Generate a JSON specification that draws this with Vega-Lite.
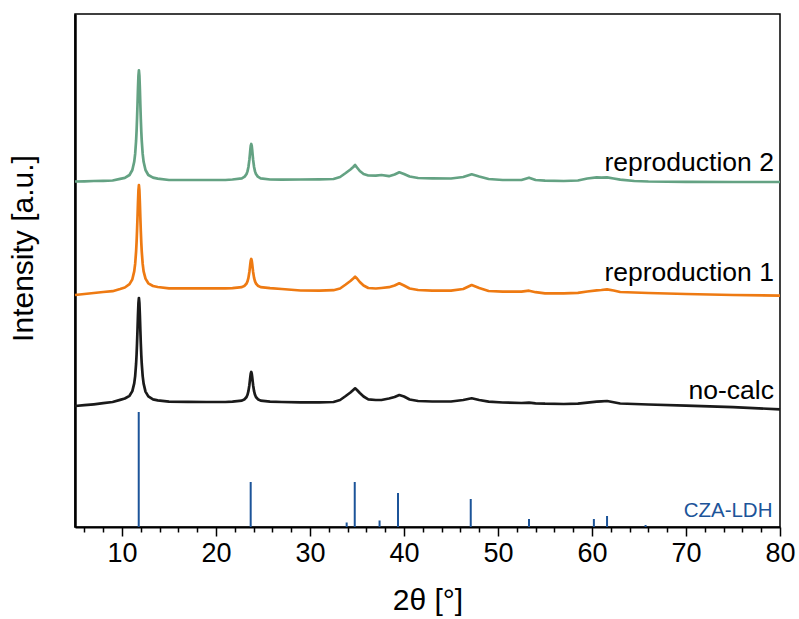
{
  "$schema": "https://vega.github.io/schema/vega-lite/v6.json",
  "width": 705,
  "height": 513,
  "autosize": "none",
  "padding": {"left": 75, "top": 14, "right": 19, "bottom": 92},
  "background": "white",
  "config": {
    "font": "Liberation Sans",
    "view": {"stroke": "#000000", "strokeWidth": 1.5},
    "axis": {"grid": false}
  },
  "datasets": {
    "sticks": [
      {"t": 11.78, "h": 115}, {"t": 23.69, "h": 45}, {"t": 33.9, "h": 4.5}, {"t": 34.76, "h": 45},
      {"t": 37.4, "h": 6.5}, {"t": 39.36, "h": 34}, {"t": 47.1, "h": 28}, {"t": 53.3, "h": 8},
      {"t": 60.2, "h": 8}, {"t": 61.6, "h": 11}, {"t": 65.7, "h": 2}
    ],
    "labels": [
      {"name": "reproduction 2", "t": 79.35, "i": 356.3},
      {"name": "reproduction 1", "t": 79.35, "i": 246.3},
      {"name": "no-calc", "t": 79.35, "i": 127.7},
      {"name": "CZA-LDH", "t": 79.2, "i": 10.3}
    ],
    "xrd": [
      {"s": "reproduction 2", "t": 5, "i": 345.5}, {"s": "reproduction 2", "t": 6, "i": 345.7}, {"s": "reproduction 2", "t": 7, "i": 346}, {"s": "reproduction 2", "t": 8, "i": 346.2}, {"s": "reproduction 2", "t": 9, "i": 346.5},
      {"s": "reproduction 2", "t": 9.8, "i": 348.1}, {"s": "reproduction 2", "t": 10.3, "i": 349.1}, {"s": "reproduction 2", "t": 10.8, "i": 352.0}, {"s": "reproduction 2", "t": 11.1, "i": 357.0}, {"s": "reproduction 2", "t": 11.3, "i": 365.2}, {"s": "reproduction 2", "t": 11.4, "i": 373.1}, {"s": "reproduction 2", "t": 11.5, "i": 386.3}, {"s": "reproduction 2", "t": 11.55, "i": 395.9}, {"s": "reproduction 2", "t": 11.6, "i": 408.2}, {"s": "reproduction 2", "t": 11.65, "i": 422.8}, {"s": "reproduction 2", "t": 11.7, "i": 438.6}, {"s": "reproduction 2", "t": 11.75, "i": 451.5}, {"s": "reproduction 2", "t": 11.8, "i": 456.7}, {"s": "reproduction 2", "t": 11.85, "i": 451.5}, {"s": "reproduction 2", "t": 11.9, "i": 438.6}, {"s": "reproduction 2", "t": 11.95, "i": 422.8}, {"s": "reproduction 2", "t": 12.0, "i": 408.2}, {"s": "reproduction 2", "t": 12.05, "i": 395.9}, {"s": "reproduction 2", "t": 12.1, "i": 386.3}, {"s": "reproduction 2", "t": 12.2, "i": 373.1}, {"s": "reproduction 2", "t": 12.3, "i": 365.2}, {"s": "reproduction 2", "t": 12.5, "i": 357.0}, {"s": "reproduction 2", "t": 12.8, "i": 352.0}, {"s": "reproduction 2", "t": 13.3, "i": 349.4}, {"s": "reproduction 2", "t": 13.8, "i": 348.4},
      {"s": "reproduction 2", "t": 15, "i": 347}, {"s": "reproduction 2", "t": 17, "i": 347}, {"s": "reproduction 2", "t": 19, "i": 347}, {"s": "reproduction 2", "t": 21, "i": 347},
      {"s": "reproduction 2", "t": 21.75, "i": 347.5}, {"s": "reproduction 2", "t": 22.75, "i": 348.7}, {"s": "reproduction 2", "t": 23.05, "i": 350.4}, {"s": "reproduction 2", "t": 23.25, "i": 353}, {"s": "reproduction 2", "t": 23.35, "i": 355.6}, {"s": "reproduction 2", "t": 23.45, "i": 360}, {"s": "reproduction 2", "t": 23.55, "i": 367.1}, {"s": "reproduction 2", "t": 23.6, "i": 371.9}, {"s": "reproduction 2", "t": 23.65, "i": 377.1}, {"s": "reproduction 2", "t": 23.7, "i": 381.3}, {"s": "reproduction 2", "t": 23.75, "i": 383}, {"s": "reproduction 2", "t": 23.8, "i": 381.3}, {"s": "reproduction 2", "t": 23.85, "i": 377.1}, {"s": "reproduction 2", "t": 23.9, "i": 371.9}, {"s": "reproduction 2", "t": 23.95, "i": 367.1}, {"s": "reproduction 2", "t": 24.05, "i": 360}, {"s": "reproduction 2", "t": 24.15, "i": 355.6}, {"s": "reproduction 2", "t": 24.25, "i": 353}, {"s": "reproduction 2", "t": 24.45, "i": 350.4}, {"s": "reproduction 2", "t": 24.75, "i": 348.7}, {"s": "reproduction 2", "t": 25.75, "i": 347.5},
      {"s": "reproduction 2", "t": 27, "i": 347.3}, {"s": "reproduction 2", "t": 29, "i": 347.5}, {"s": "reproduction 2", "t": 31, "i": 347.7}, {"s": "reproduction 2", "t": 32.5, "i": 348}, {"s": "reproduction 2", "t": 33.2, "i": 350}, {"s": "reproduction 2", "t": 33.8, "i": 354}, {"s": "reproduction 2", "t": 34.3, "i": 357.5}, {"s": "reproduction 2", "t": 34.6, "i": 360}, {"s": "reproduction 2", "t": 34.8, "i": 362}, {"s": "reproduction 2", "t": 35.0, "i": 359.5}, {"s": "reproduction 2", "t": 35.3, "i": 356}, {"s": "reproduction 2", "t": 35.7, "i": 353}, {"s": "reproduction 2", "t": 36.2, "i": 351.5}, {"s": "reproduction 2", "t": 37.0, "i": 351.3}, {"s": "reproduction 2", "t": 37.6, "i": 352}, {"s": "reproduction 2", "t": 38.4, "i": 350.8}, {"s": "reproduction 2", "t": 39.0, "i": 352.5}, {"s": "reproduction 2", "t": 39.5, "i": 354.7}, {"s": "reproduction 2", "t": 40.0, "i": 353}, {"s": "reproduction 2", "t": 40.6, "i": 350.5}, {"s": "reproduction 2", "t": 41.5, "i": 349}, {"s": "reproduction 2", "t": 43, "i": 348.7}, {"s": "reproduction 2", "t": 45, "i": 348.5}, {"s": "reproduction 2", "t": 46.3, "i": 350}, {"s": "reproduction 2", "t": 47.2, "i": 352.7}, {"s": "reproduction 2", "t": 48.0, "i": 350.5}, {"s": "reproduction 2", "t": 49, "i": 348}, {"s": "reproduction 2", "t": 50.5, "i": 347}, {"s": "reproduction 2", "t": 52.5, "i": 347}, {"s": "reproduction 2", "t": 53.3, "i": 349.3}, {"s": "reproduction 2", "t": 54, "i": 347}, {"s": "reproduction 2", "t": 55, "i": 346.3}, {"s": "reproduction 2", "t": 57, "i": 346}, {"s": "reproduction 2", "t": 58.5, "i": 346.5}, {"s": "reproduction 2", "t": 59.5, "i": 348.5}, {"s": "reproduction 2", "t": 60.5, "i": 349.7}, {"s": "reproduction 2", "t": 61.0, "i": 349.3}, {"s": "reproduction 2", "t": 61.6, "i": 349.7}, {"s": "reproduction 2", "t": 62.3, "i": 348.5}, {"s": "reproduction 2", "t": 63, "i": 347.3}, {"s": "reproduction 2", "t": 64.5, "i": 346}, {"s": "reproduction 2", "t": 66, "i": 345.5}, {"s": "reproduction 2", "t": 70, "i": 345.2}, {"s": "reproduction 2", "t": 75, "i": 345}, {"s": "reproduction 2", "t": 80, "i": 345},

      {"s": "reproduction 1", "t": 5, "i": 232}, {"s": "reproduction 1", "t": 6, "i": 233}, {"s": "reproduction 1", "t": 7, "i": 234}, {"s": "reproduction 1", "t": 8, "i": 235}, {"s": "reproduction 1", "t": 9, "i": 235.8},
      {"s": "reproduction 1", "t": 9.8, "i": 238.0}, {"s": "reproduction 1", "t": 10.3, "i": 239.5}, {"s": "reproduction 1", "t": 10.8, "i": 242.8}, {"s": "reproduction 1", "t": 11.1, "i": 247.7}, {"s": "reproduction 1", "t": 11.3, "i": 255.6}, {"s": "reproduction 1", "t": 11.4, "i": 263.1}, {"s": "reproduction 1", "t": 11.5, "i": 275.6}, {"s": "reproduction 1", "t": 11.55, "i": 284.6}, {"s": "reproduction 1", "t": 11.6, "i": 296.2}, {"s": "reproduction 1", "t": 11.65, "i": 309.9}, {"s": "reproduction 1", "t": 11.7, "i": 324.7}, {"s": "reproduction 1", "t": 11.75, "i": 336.9}, {"s": "reproduction 1", "t": 11.8, "i": 341.8}, {"s": "reproduction 1", "t": 11.85, "i": 336.9}, {"s": "reproduction 1", "t": 11.9, "i": 324.7}, {"s": "reproduction 1", "t": 11.95, "i": 309.9}, {"s": "reproduction 1", "t": 12.0, "i": 296.2}, {"s": "reproduction 1", "t": 12.05, "i": 284.6}, {"s": "reproduction 1", "t": 12.1, "i": 275.6}, {"s": "reproduction 1", "t": 12.2, "i": 263.1}, {"s": "reproduction 1", "t": 12.3, "i": 255.7}, {"s": "reproduction 1", "t": 12.5, "i": 248.4}, {"s": "reproduction 1", "t": 12.8, "i": 243.7}, {"s": "reproduction 1", "t": 13.3, "i": 241}, {"s": "reproduction 1", "t": 13.8, "i": 240},
      {"s": "reproduction 1", "t": 15, "i": 238.7}, {"s": "reproduction 1", "t": 17, "i": 238.7}, {"s": "reproduction 1", "t": 19, "i": 238.7}, {"s": "reproduction 1", "t": 21, "i": 238.7},
      {"s": "reproduction 1", "t": 21.75, "i": 238.9}, {"s": "reproduction 1", "t": 22.75, "i": 239.9}, {"s": "reproduction 1", "t": 23.05, "i": 241.3}, {"s": "reproduction 1", "t": 23.25, "i": 243.5}, {"s": "reproduction 1", "t": 23.35, "i": 245.6}, {"s": "reproduction 1", "t": 23.45, "i": 249.1}, {"s": "reproduction 1", "t": 23.55, "i": 255}, {"s": "reproduction 1", "t": 23.6, "i": 258.9}, {"s": "reproduction 1", "t": 23.65, "i": 263.1}, {"s": "reproduction 1", "t": 23.7, "i": 266.6}, {"s": "reproduction 1", "t": 23.75, "i": 268}, {"s": "reproduction 1", "t": 23.8, "i": 266.6}, {"s": "reproduction 1", "t": 23.85, "i": 263.1}, {"s": "reproduction 1", "t": 23.9, "i": 258.9}, {"s": "reproduction 1", "t": 23.95, "i": 255}, {"s": "reproduction 1", "t": 24.05, "i": 249.1}, {"s": "reproduction 1", "t": 24.15, "i": 245.6}, {"s": "reproduction 1", "t": 24.25, "i": 243.5}, {"s": "reproduction 1", "t": 24.45, "i": 241.3}, {"s": "reproduction 1", "t": 24.75, "i": 239.9}, {"s": "reproduction 1", "t": 25.75, "i": 238.9},
      {"s": "reproduction 1", "t": 27, "i": 238}, {"s": "reproduction 1", "t": 29, "i": 236.5}, {"s": "reproduction 1", "t": 31, "i": 236.3}, {"s": "reproduction 1", "t": 32.5, "i": 236.8}, {"s": "reproduction 1", "t": 33.2, "i": 238.5}, {"s": "reproduction 1", "t": 33.8, "i": 242.5}, {"s": "reproduction 1", "t": 34.3, "i": 246}, {"s": "reproduction 1", "t": 34.6, "i": 248.5}, {"s": "reproduction 1", "t": 34.8, "i": 250.3}, {"s": "reproduction 1", "t": 35.0, "i": 248.5}, {"s": "reproduction 1", "t": 35.3, "i": 245}, {"s": "reproduction 1", "t": 35.7, "i": 241.5}, {"s": "reproduction 1", "t": 36.2, "i": 239}, {"s": "reproduction 1", "t": 37.0, "i": 238.5}, {"s": "reproduction 1", "t": 37.6, "i": 239}, {"s": "reproduction 1", "t": 38.4, "i": 239.8}, {"s": "reproduction 1", "t": 39.0, "i": 241.5}, {"s": "reproduction 1", "t": 39.5, "i": 243.7}, {"s": "reproduction 1", "t": 40.0, "i": 241.5}, {"s": "reproduction 1", "t": 40.6, "i": 238.5}, {"s": "reproduction 1", "t": 41.5, "i": 237}, {"s": "reproduction 1", "t": 43, "i": 236.3}, {"s": "reproduction 1", "t": 45, "i": 236.3}, {"s": "reproduction 1", "t": 46.3, "i": 238}, {"s": "reproduction 1", "t": 47.2, "i": 242}, {"s": "reproduction 1", "t": 48.0, "i": 239}, {"s": "reproduction 1", "t": 49, "i": 236}, {"s": "reproduction 1", "t": 50.5, "i": 235.3}, {"s": "reproduction 1", "t": 52.5, "i": 235.3}, {"s": "reproduction 1", "t": 53.3, "i": 236.3}, {"s": "reproduction 1", "t": 54, "i": 234.8}, {"s": "reproduction 1", "t": 55, "i": 233.7}, {"s": "reproduction 1", "t": 57, "i": 233.7}, {"s": "reproduction 1", "t": 58.5, "i": 234.2}, {"s": "reproduction 1", "t": 59.5, "i": 235.5}, {"s": "reproduction 1", "t": 60.5, "i": 236.7}, {"s": "reproduction 1", "t": 61.0, "i": 237}, {"s": "reproduction 1", "t": 61.6, "i": 237.7}, {"s": "reproduction 1", "t": 62.3, "i": 236.5}, {"s": "reproduction 1", "t": 63, "i": 235}, {"s": "reproduction 1", "t": 64.5, "i": 234.5}, {"s": "reproduction 1", "t": 66, "i": 234}, {"s": "reproduction 1", "t": 70, "i": 233}, {"s": "reproduction 1", "t": 75, "i": 232}, {"s": "reproduction 1", "t": 80, "i": 231.3},

      {"s": "no-calc", "t": 5, "i": 121}, {"s": "no-calc", "t": 6, "i": 121.8}, {"s": "no-calc", "t": 7, "i": 122.7}, {"s": "no-calc", "t": 8, "i": 123.8}, {"s": "no-calc", "t": 9, "i": 125},
      {"s": "no-calc", "t": 9.8, "i": 127.1}, {"s": "no-calc", "t": 10.3, "i": 128.5}, {"s": "no-calc", "t": 10.8, "i": 131.2}, {"s": "no-calc", "t": 11.1, "i": 135.9}, {"s": "no-calc", "t": 11.3, "i": 143.6}, {"s": "no-calc", "t": 11.4, "i": 150.9}, {"s": "no-calc", "t": 11.5, "i": 163.3}, {"s": "no-calc", "t": 11.55, "i": 172.2}, {"s": "no-calc", "t": 11.6, "i": 183.7}, {"s": "no-calc", "t": 11.65, "i": 197.4}, {"s": "no-calc", "t": 11.7, "i": 212.1}, {"s": "no-calc", "t": 11.75, "i": 224.2}, {"s": "no-calc", "t": 11.8, "i": 229}, {"s": "no-calc", "t": 11.85, "i": 224.2}, {"s": "no-calc", "t": 11.9, "i": 212.1}, {"s": "no-calc", "t": 11.95, "i": 197.4}, {"s": "no-calc", "t": 12.0, "i": 183.7}, {"s": "no-calc", "t": 12.05, "i": 172.2}, {"s": "no-calc", "t": 12.1, "i": 163.3}, {"s": "no-calc", "t": 12.2, "i": 150.9}, {"s": "no-calc", "t": 12.3, "i": 143.4}, {"s": "no-calc", "t": 12.5, "i": 135.4}, {"s": "no-calc", "t": 12.8, "i": 130.6}, {"s": "no-calc", "t": 13.3, "i": 127.6}, {"s": "no-calc", "t": 13.8, "i": 126.6},
      {"s": "no-calc", "t": 15, "i": 125.3}, {"s": "no-calc", "t": 17, "i": 125.2}, {"s": "no-calc", "t": 19, "i": 125}, {"s": "no-calc", "t": 21, "i": 125},
      {"s": "no-calc", "t": 21.75, "i": 125.4}, {"s": "no-calc", "t": 22.75, "i": 126.4}, {"s": "no-calc", "t": 23.05, "i": 127.8}, {"s": "no-calc", "t": 23.25, "i": 130}, {"s": "no-calc", "t": 23.35, "i": 132.2}, {"s": "no-calc", "t": 23.45, "i": 135.8}, {"s": "no-calc", "t": 23.55, "i": 141.8}, {"s": "no-calc", "t": 23.6, "i": 145.8}, {"s": "no-calc", "t": 23.65, "i": 150}, {"s": "no-calc", "t": 23.7, "i": 153.6}, {"s": "no-calc", "t": 23.75, "i": 155}, {"s": "no-calc", "t": 23.8, "i": 153.6}, {"s": "no-calc", "t": 23.85, "i": 150}, {"s": "no-calc", "t": 23.9, "i": 145.8}, {"s": "no-calc", "t": 23.95, "i": 141.8}, {"s": "no-calc", "t": 24.05, "i": 135.8}, {"s": "no-calc", "t": 24.15, "i": 132.2}, {"s": "no-calc", "t": 24.25, "i": 130}, {"s": "no-calc", "t": 24.45, "i": 127.8}, {"s": "no-calc", "t": 24.75, "i": 126.4}, {"s": "no-calc", "t": 25.75, "i": 125.4},
      {"s": "no-calc", "t": 27, "i": 125}, {"s": "no-calc", "t": 29, "i": 124.7}, {"s": "no-calc", "t": 31, "i": 124.7}, {"s": "no-calc", "t": 32.5, "i": 125}, {"s": "no-calc", "t": 33.2, "i": 127}, {"s": "no-calc", "t": 33.8, "i": 131}, {"s": "no-calc", "t": 34.3, "i": 134.5}, {"s": "no-calc", "t": 34.6, "i": 137}, {"s": "no-calc", "t": 34.8, "i": 138.7}, {"s": "no-calc", "t": 35.0, "i": 137}, {"s": "no-calc", "t": 35.3, "i": 134}, {"s": "no-calc", "t": 35.7, "i": 130.5}, {"s": "no-calc", "t": 36.2, "i": 127.7}, {"s": "no-calc", "t": 37.0, "i": 127}, {"s": "no-calc", "t": 37.6, "i": 127}, {"s": "no-calc", "t": 38.4, "i": 128.5}, {"s": "no-calc", "t": 39.0, "i": 130}, {"s": "no-calc", "t": 39.5, "i": 132}, {"s": "no-calc", "t": 40.0, "i": 130.5}, {"s": "no-calc", "t": 40.6, "i": 127.5}, {"s": "no-calc", "t": 41.5, "i": 126}, {"s": "no-calc", "t": 43, "i": 125.5}, {"s": "no-calc", "t": 45, "i": 125.5}, {"s": "no-calc", "t": 46.3, "i": 127}, {"s": "no-calc", "t": 47.2, "i": 128.7}, {"s": "no-calc", "t": 48.0, "i": 127}, {"s": "no-calc", "t": 49, "i": 125.3}, {"s": "no-calc", "t": 50.5, "i": 124.5}, {"s": "no-calc", "t": 52.5, "i": 124}, {"s": "no-calc", "t": 53.3, "i": 124.3}, {"s": "no-calc", "t": 54, "i": 123.7}, {"s": "no-calc", "t": 55, "i": 123.3}, {"s": "no-calc", "t": 57, "i": 123}, {"s": "no-calc", "t": 58.5, "i": 123.3}, {"s": "no-calc", "t": 59.5, "i": 124.3}, {"s": "no-calc", "t": 60.5, "i": 125.3}, {"s": "no-calc", "t": 61.0, "i": 125.7}, {"s": "no-calc", "t": 61.6, "i": 126}, {"s": "no-calc", "t": 62.3, "i": 124.7}, {"s": "no-calc", "t": 63, "i": 123.5}, {"s": "no-calc", "t": 64.5, "i": 123}, {"s": "no-calc", "t": 66, "i": 122.5}, {"s": "no-calc", "t": 70, "i": 121.3}, {"s": "no-calc", "t": 75, "i": 119.8}, {"s": "no-calc", "t": 80, "i": 117.7}
    ]
  },
  "resolve": {"axis": {"x": "independent"}},
  "layer": [
    {
      "data": {"name": "sticks"},
      "mark": {"type": "rule", "color": "#1c5499", "strokeWidth": 2},
      "encoding": {
        "x": {
          "field": "t", "type": "quantitative",
          "scale": {"domain": [5, 80], "nice": false, "zero": false},
          "axis": {
            "orient": "bottom",
            "values": [10, 20, 30, 40, 50, 60, 70, 80],
            "title": "2θ [°]",
            "titleFontSize": 30, "titleFontWeight": "normal", "titleColor": "#000000", "titlePadding": 19,
            "labelFontSize": 27, "labelColor": "#000000", "labelPadding": 4, "labelFlush": false,
            "domainColor": "#000000", "domainWidth": 2,
            "tickColor": "#000000", "tickWidth": 1.5, "tickSize": 9
          }
        },
        "y": {
          "field": "h", "type": "quantitative",
          "scale": {"domain": [0, 513], "nice": false, "zero": false},
          "axis": {
            "title": "Intensity [a.u.]",
            "titleFontSize": 30, "titleFontWeight": "normal", "titleColor": "#000000", "titlePadding": 37,
            "titleY": 234, "titleAlign": "center",
            "labels": false, "ticks": false,
            "domainColor": "#000000", "domainWidth": 2.5
          }
        },
        "y2": {"datum": 0}
      }
    },
    {
      "data": {"name": "xrd"},
      "mark": {"type": "line", "strokeWidth": 2.7, "interpolate": "linear", "strokeJoin": "round"},
      "encoding": {
        "x": {"field": "t", "type": "quantitative", "axis": null},
        "y": {"field": "i", "type": "quantitative"},
        "color": {
          "field": "s", "type": "nominal",
          "scale": {"domain": ["no-calc", "reproduction 1", "reproduction 2"], "range": ["#1a1a1a", "#ee7a12", "#64a283"]},
          "legend": null
        },
        "order": {"field": "t", "type": "quantitative"}
      }
    },
    {
      "data": {"name": "labels"},
      "transform": [{"filter": "datum.name !== 'CZA-LDH'"}],
      "mark": {"type": "text", "align": "right", "baseline": "alphabetic", "fontSize": 26.5, "color": "#000000"},
      "encoding": {
        "x": {"field": "t", "type": "quantitative", "axis": null},
        "y": {"field": "i", "type": "quantitative"},
        "text": {"field": "name", "type": "nominal"}
      }
    },
    {
      "data": {"name": "labels"},
      "transform": [{"filter": "datum.name === 'CZA-LDH'"}],
      "mark": {"type": "text", "align": "right", "baseline": "alphabetic", "fontSize": 20.5, "color": "#1c5499"},
      "encoding": {
        "x": {
          "field": "t", "type": "quantitative",
          "axis": {
            "orient": "bottom",
            "values": [6, 8, 12, 14, 16, 18, 22, 24, 26, 28, 32, 34, 36, 38, 42, 44, 46, 48, 52, 54, 56, 58, 62, 64, 66, 68, 72, 74, 76, 78],
            "labels": false, "domain": false, "title": null,
            "tickColor": "#000000", "tickWidth": 1.5, "tickSize": 5
          }
        },
        "y": {"field": "i", "type": "quantitative"},
        "text": {"field": "name", "type": "nominal"}
      }
    }
  ]
}
